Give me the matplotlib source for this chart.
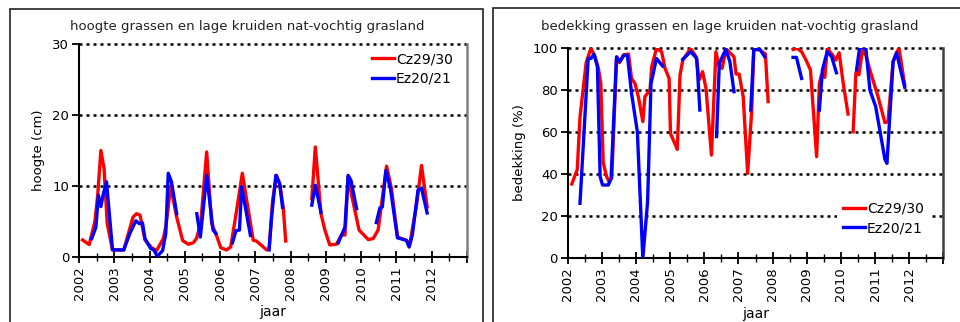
import matplotlib.pyplot as plt
import numpy as np
from matplotlib.patches import Rectangle
from matplotlib.ticker import MultipleLocator

nan = np.nan

# hoogte (cm)
jaar_h_cz = [2002.10, 2002.29, 2002.45, 2002.53, 2002.62, 2002.71, 2002.80, 2002.95, 2003.10, 2003.27,
             2003.53, 2003.63, 2003.73, 2003.87, 2004.06, 2004.20, 2004.39, 2004.47, 2004.60, 2004.77,
             2004.94, 2005.10, 2005.24, 2005.33, 2005.45, 2005.62, 2005.76, 2005.88, 2006.02, 2006.18,
             2006.30, 2006.47, 2006.63, 2006.80, 2006.94, 2007.03, 2007.17, 2007.32, 2007.39, 2007.49,
             2007.60, 2007.69, 2007.79, 2007.86, 2008.20, 2008.60, 2008.70, 2008.86, 2008.97, 2009.11,
             2009.30, 2009.44, 2009.54, 2009.63, 2009.73, 2009.85, 2009.94, 2010.20, 2010.34, 2010.48,
             2010.72, 2010.86, 2011.03, 2011.28, 2011.38, 2011.57, 2011.71, 2011.87]
hoogte_cz = [2.4, 1.75, 5.0, 8.7, 15.0, 12.5, 4.7, 1.0, 1.0, 1.0,
             5.6, 6.1, 5.9, 2.4, 1.3, 0.9, 2.6, 4.5, 10.0, 5.6,
             2.3, 1.8, 2.0, 2.6, 4.7, 14.8, 4.7, 3.3, 1.3, 1.0,
             1.4, 6.6, 11.8, 6.6, 2.35, 2.25, 1.65, 1.0, 1.2, 8.0,
             11.5, 10.3, 7.0, 2.25, nan, 8.2, 15.5, 6.1, 3.8, 1.7,
             1.8, 3.1, 3.1, 11.3, 8.7, 5.9, 3.8, 2.45, 2.6, 3.8,
             12.8, 9.6, 2.8, 2.35, 1.9, 7.3, 12.9, 7.05]

jaar_h_ez = [2002.36, 2002.48, 2002.55, 2002.62, 2002.69, 2002.78, 2002.95, 2003.10, 2003.27, 2003.44,
             2003.61, 2003.71, 2003.80, 2003.87, 2004.03, 2004.12, 2004.22, 2004.37, 2004.46, 2004.53,
             2004.62, 2004.77, 2005.00, 2005.34, 2005.44, 2005.62, 2005.80, 2005.88, 2006.10, 2006.35,
             2006.45, 2006.55, 2006.61, 2006.75, 2006.86, 2007.10, 2007.39, 2007.46, 2007.58, 2007.69,
             2007.77, 2008.20, 2008.60, 2008.70, 2008.86, 2009.10, 2009.35, 2009.54, 2009.63, 2009.71,
             2009.87, 2010.20, 2010.43, 2010.53, 2010.60, 2010.70, 2010.83, 2011.03, 2011.28, 2011.36,
             2011.45, 2011.61, 2011.71, 2011.87]
hoogte_ez = [2.6, 4.2, 8.7, 7.1, 8.9, 10.6, 1.0, 1.0, 1.0, 3.3,
             5.1, 4.7, 4.8, 2.6, 1.2, 1.0, 0.1, 0.9, 3.3, 11.8,
             10.6, 6.1, nan, 6.1, 2.8, 11.5, 3.8, 3.3, nan, 2.0,
             3.7, 3.8, 9.9, 6.1, 3.05, nan, 1.0, 5.6, 11.5, 10.3,
             7.0, nan, 7.3, 10.1, 6.3, nan, 2.0, 4.2, 11.5, 10.8,
             6.8, nan, 4.85, 6.9, 7.05, 12.2, 9.6, 2.7, 2.35, 1.4,
             3.1, 9.4, 9.7, 6.2]

# bedekking (%)
jaar_b_cz = [2002.12, 2002.28, 2002.36, 2002.54, 2002.68, 2002.80, 2002.90, 2002.97, 2003.04, 2003.14,
             2003.21, 2003.29, 2003.43, 2003.51, 2003.63, 2003.78, 2003.87, 2003.97, 2004.07, 2004.20,
             2004.26, 2004.41, 2004.46, 2004.60, 2004.75, 2004.85, 2004.97, 2005.01, 2005.21, 2005.29,
             2005.37, 2005.60, 2005.76, 2005.85, 2005.95, 2006.05, 2006.21, 2006.34, 2006.44, 2006.52,
             2006.64, 2006.75, 2006.87, 2006.93, 2007.02, 2007.14, 2007.27, 2007.39, 2007.45, 2007.63,
             2007.79, 2007.87, 2008.20, 2008.60, 2008.72, 2008.85, 2008.98, 2009.11, 2009.29, 2009.37,
             2009.43, 2009.53, 2009.60, 2009.76, 2009.85, 2009.95, 2010.07, 2010.21, 2010.28, 2010.36,
             2010.44, 2010.53, 2010.63, 2010.73, 2010.85, 2011.09, 2011.29, 2011.38, 2011.53, 2011.70,
             2011.87]
bedekking_cz = [35.3, 42.2, 67.0, 92.9, 99.7, 95.7, 90.0, 83.0, 45.4, 38.8,
                36.4, 38.0, 94.9, 92.9, 96.5, 97.0, 85.4, 83.0, 76.7, 64.9,
                76.7, 79.9, 91.0, 99.7, 98.1, 90.2, 85.4, 59.3, 51.7, 87.0,
                94.1, 99.7, 95.7, 84.7, 88.6, 80.7, 49.0, 98.1, 91.0, 90.2,
                99.4, 97.6, 95.7, 87.5, 87.5, 76.7, 40.3, 70.4, 99.2, 98.9,
                97.0, 74.4, nan, 99.2, 99.7, 98.1, 94.1, 89.4, 48.3, 83.0,
                87.0, 85.9, 99.7, 96.5, 94.1, 97.6, 83.0, 68.5, nan, 60.1,
                88.1, 87.2, 98.6, 96.5, 89.4, 76.7, 64.4, 64.9, 93.4, 100.0,
                82.3]

jaar_b_ez = [2002.36, 2002.60, 2002.68, 2002.77, 2002.87, 2002.95, 2003.02, 2003.19, 2003.27, 2003.43,
             2003.53, 2003.65, 2003.75, 2003.87, 2004.04, 2004.20, 2004.34, 2004.44, 2004.60, 2004.78,
             2005.00, 2005.37, 2005.60, 2005.78, 2005.87, 2006.10, 2006.36, 2006.44, 2006.63, 2006.75,
             2006.87, 2007.10, 2007.36, 2007.45, 2007.63, 2007.77, 2008.20, 2008.60, 2008.70, 2008.85,
             2009.10, 2009.37, 2009.46, 2009.60, 2009.73, 2009.87, 2010.20, 2010.46, 2010.55, 2010.73,
             2010.85, 2011.02, 2011.29, 2011.35, 2011.53, 2011.63, 2011.87]
bedekking_ez = [26.1, 94.9, 94.9, 97.0, 91.0, 38.8, 34.8, 34.8, 38.0, 95.7,
                93.4, 96.5, 96.2, 78.3, 60.1, 0.0, 26.9, 83.0, 94.9, 91.3,
                nan, 94.5, 98.1, 94.9, 70.4, nan, 57.8, 92.6, 99.2, 93.4,
                79.1, nan, 70.4, 99.2, 99.2, 95.7, nan, 95.4, 95.4, 85.4,
                nan, 70.4, 89.4, 98.1, 95.7, 88.1, nan, 89.4, 100.0, 100.0,
                79.9, 72.0, 47.0, 45.1, 93.4, 97.6, 81.2]

fig = plt.figure(figsize=(9.6, 3.22), dpi=100)

# panel frames
fig.add_artist(Rectangle((10 / 960, -0.2), 473 / 960, 1.2 - 9.3 / 322,
                         transform=fig.transFigure, fill=False, edgecolor='#222222', lw=1.2))
fig.add_artist(Rectangle((493 / 960, -0.2), 0.6, 1.2 - 8.3 / 322,
                         transform=fig.transFigure, fill=False, edgecolor='#222222', lw=1.2))

ax1 = fig.add_axes([79 / 960, 1 - 257 / 322, 388 / 960, 213 / 322])
ax2 = fig.add_axes([567.7 / 960, 1 - 258.3 / 322, 375.6 / 960, 210.6 / 322])


def style(ax, ymax, ystep, rcolor):
    ax.set_xlim(2002, 2013)
    ax.set_ylim(0, ymax)
    ax.yaxis.set_major_locator(MultipleLocator(ystep))
    ax.set_xticks(range(2002, 2014))
    ax.set_xticklabels([str(y) for y in range(2002, 2013)] + [''], rotation=90, fontsize=9.5)
    ax.xaxis.set_minor_locator(MultipleLocator(0.5))
    ax.tick_params(axis='x', which='major', direction='inout', length=9, width=1.3, pad=2)
    ax.tick_params(axis='x', which='minor', direction='inout', length=6, width=1.0)
    ax.tick_params(axis='y', direction='out', length=5, width=1.3, labelsize=9.5, pad=2)
    ax.spines['top'].set_visible(False)
    ax.spines['left'].set_linewidth(1.5)
    ax.spines['bottom'].set_linewidth(1.5)
    ax.spines['right'].set_color(rcolor)
    ax.spines['right'].set_linewidth(1.8)
    for v in np.arange(ystep, ymax + 0.1, ystep):
        ax.axhline(v, color='black', lw=1.8, linestyle=(0, (1.2, 1.6)), clip_on=False, zorder=1)
    ax.set_xlabel('jaar', fontsize=10, labelpad=4)


ax1.plot(jaar_h_cz, hoogte_cz, color='#ff0000', lw=2.4, label='Cz29/30', zorder=3)
ax1.plot(jaar_h_ez, hoogte_ez, color='#0000ff', lw=2.4, label='Ez20/21', zorder=4)
style(ax1, 30, 10, '#808080')
ax1.set_ylabel('hoogte (cm)', fontsize=9.5, labelpad=5)
ax1.legend(loc='upper right', bbox_to_anchor=(0.985, 1.0), frameon=False, fontsize=10,
           handlelength=1.6, handletextpad=0.15, labelspacing=0.4, borderaxespad=0.2)

ax2.plot(jaar_b_cz, bedekking_cz, color='#ff0000', lw=2.4, label='Cz29/30', zorder=3)
ax2.plot(jaar_b_ez, bedekking_ez, color='#0000ff', lw=2.4, label='Ez20/21', zorder=4)
style(ax2, 100, 20, '#404040')
ax2.set_ylabel('bedekking (%)', fontsize=9.5, labelpad=5)
leg = ax2.legend(loc='lower right', bbox_to_anchor=(0.97, 0.07), frameon=True, fontsize=10,
                 handlelength=1.6, handletextpad=0.15, labelspacing=0.4, borderaxespad=0.2,
                 fancybox=False, framealpha=1)
leg.get_frame().set_edgecolor('none')
leg.set_zorder(5)

fig.text(247 / 960, 1 - 26.7 / 322, 'hoogte grassen en lage kruiden nat-vochtig grasland',
         ha='center', va='center', fontsize=9.5, color='#222222')
fig.text(729.5 / 960, 1 - 26.7 / 322, 'bedekking grassen en lage kruiden nat-vochtig grasland',
         ha='center', va='center', fontsize=9.5, color='#222222')

fig.savefig('out.png', dpi=100)
